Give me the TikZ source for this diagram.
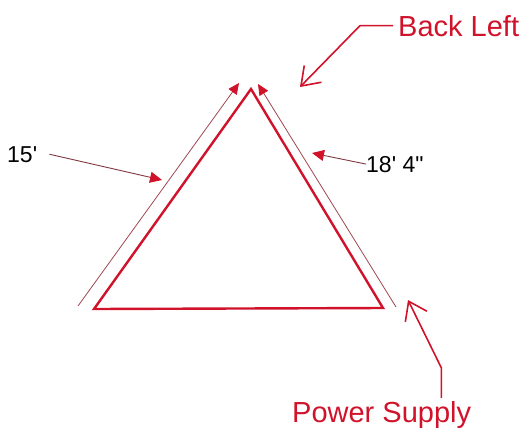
\documentclass[tikz,border=0pt]{standalone}
\usepackage{fontspec}
\setmainfont{Liberation Sans}
\usetikzlibrary{arrows.meta}
\definecolor{wallred}{RGB}{208,18,42}
\definecolor{dimred}{RGB}{160,70,80}

\begin{document}
\begin{tikzpicture}[x=1pt, y=-1pt,
    wall/.style={draw=wallred, line width=2.4pt},
    dimline/.style={draw=dimred, line width=0.8pt,
        -{Triangle[length=11pt, width=10pt, color=wallred]}},
    leader/.style={draw=dimred!80!black, line width=0.9pt,
        -{Triangle[length=12pt, width=11pt, color=wallred]}},
    pointer/.style={draw=wallred, line width=1.6pt,
        -{Straight Barb[length=17pt, width=24pt, line width=1.6pt]}},
    walltag/.style={inner sep=0pt, text=wallred, font=\fontsize{29}{34}\selectfont},
    sizetag/.style={inner sep=0pt, font=\fontsize{23}{28}\selectfont}
]
    \useasboundingbox (0,0) rectangle (530,437);

    % Corners of the floor triangle
    \coordinate (apex)   at (251,89);
    \coordinate (bleft)  at (94,309);
    \coordinate (bright) at (383,308);

    % Ends of the two measured sides
    \coordinate (dleftlow)  at (78,306);
    \coordinate (dlefttop)  at (239,83);
    \coordinate (drightlow) at (396,307);
    \coordinate (drighttop) at (258,84);

    % Where the pointers end
    \coordinate (tipback)  at (300,87);
    \coordinate (tippower) at (408,300);
    \coordinate (tipleft)  at (162,180);
    \coordinate (tipright) at (312,153);

    % The wall outline
    \draw[wall] (apex) -- (bleft) -- (bright) -- cycle;

    % Measure lines along the left and right walls
    \draw[dimline] (dleftlow) -- (dlefttop);
    \draw[dimline] (drightlow) -- (drighttop);

    % Texts
    \node[walltag, anchor=base west] (backleft) at (398,36) {Back Left};
    \node[walltag, anchor=base west] (power) at (292,422) {Power Supply};
    \node[sizetag, anchor=base west] (lenleft) at (7,162) {15\textquotesingle};
    \node[sizetag, anchor=base west] (lenright) at (366,172) {18\textquotesingle{} 4\textquotedbl};

    % Back Left pointer, bent once
    \draw[pointer] ([xshift=-5pt]backleft.west) -- ++(-33,0) -- (tipback);

    % Power Supply pointer, up and then slanted
    \draw[pointer] ([xshift=-30pt, yshift=3pt]power.north east) -- ++(0,-30) -- (tippower);

    % Length pointers
    \draw[leader] ([xshift=12pt]lenleft.east) -- (tipleft);
    \draw[leader] (lenright.west) -- (tipright);
\end{tikzpicture}
\end{document}
